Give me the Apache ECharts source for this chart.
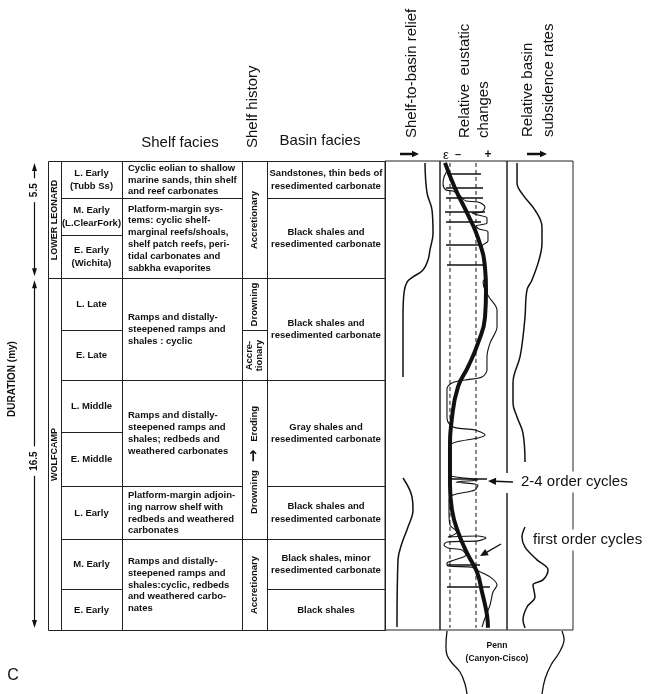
<!DOCTYPE html>
<html><head><meta charset="utf-8">
<script src="https://cdn.jsdelivr.net/npm/echarts@6/dist/echarts.min.js"></script>
<style>html,body{margin:0;padding:0;background:#fff}#c{width:650px;height:694px}</style>
</head><body><div id="c"></div><script>
// ---------------- DATA ----------------
const durationLabels = ['5.5', '16.5'];
const durationBounds = [0, 5.5, 22];

const epochNames = ['LOWER LEONARD', 'WOLFCAMP'];
const epochBounds = [0, 5.5, 22];

const stageNames = ['L. Early\n(Tubb Ss)', 'M. Early\n(L.ClearFork)', 'E. Early\n(Wichita)', 'L. Late', 'E. Late',
  'L. Middle', 'E. Middle', 'L. Early', 'M. Early', 'E. Early'];
const stageBounds = [0, 1.74, 3.47, 5.5, 7.93, 10.27, 12.71, 15.24, 17.73, 20.08, 22];

const shelfFacies = [
  'Cyclic eolian to shallow\nmarine sands, thin shelf\nand reef carbonates',
  'Platform-margin sys-\ntems: cyclic shelf-\nmarginal reefs/shoals,\nshelf patch reefs, peri-\ntidal carbonates and\nsabkha evaporites',
  'Ramps and distally-\nsteepened ramps and\nshales : cyclic',
  'Ramps and distally-\nsteepened ramps and\nshales; redbeds and\nweathered carbonates',
  'Platform-margin adjoin-\ning narrow shelf with\nredbeds and weathered\ncarbonates',
  'Ramps and distally-\nsteepened ramps and\nshales:cyclic, redbeds\nand weathered carbo-\nnates'
];
const shelfFaciesBounds = [0, 1.74, 5.5, 10.27, 15.24, 17.73, 22];

const shelfHistory = ['Accretionary', 'Drowning', 'Accre-\ntionary', 'Drowning   \u2192   Eroding', 'Accretionary'];
const shelfHistoryBounds = [0, 5.5, 7.93, 10.27, 17.73, 22];

const basinFacies = [
  'Sandstones, thin beds of\nresedimented carbonate',
  'Black shales and\nresedimented carbonate',
  'Black shales and\nresedimented carbonate',
  'Gray shales and\nresedimented carbonate',
  'Black shales and\nresedimented carbonate',
  'Black shales, minor\nresedimented carbonate',
  'Black shales'
];
const basinFaciesBounds = [0, 1.74, 5.5, 10.27, 15.24, 17.73, 20.08, 22];

// curves: [relative value, time (my from top)]
const reliefUpper = [[7.27,0.09],[7.64,1.50],[8.55,2.30],[8.73,3.38],[8.18,4.17],[7.82,4.64],[6.91,5.11],[5.09,5.44],[4.0,5.68],[3.45,6.19],[3.27,7.32],[3.27,10.13]];
const reliefLower = [[3.27,14.87],[4.91,15.76],[5.09,16.37],[4.18,17.17],[3.09,17.92],[2.36,18.71],[2.18,21.86]];

const eustaticFirstOrder = [[0.75,0.09],[2.24,1.27],[4.18,2.53],[5.67,3.61],[6.72,5.02],[6.87,6.05],[6.72,7.32],[5.67,8.54],[4.18,9.66],[2.69,10.60],[1.79,12.05],[1.49,13.65],[1.49,15.20],[1.79,16.37],[2.69,17.40],[4.18,18.48],[5.52,19.28],[6.27,20.22],[7.01,21.29],[7.16,21.90]];
const eustaticCycles = [[0.75,0.09],[1.04,0.42],[0.60,0.75],[0.45,1.08],[0.90,1.36],[1.94,1.41],[2.99,1.64],[3.88,1.88],[5.67,1.92],[6.72,2.16],[6.27,2.39],[4.78,2.44],[5.67,2.53],[7.01,2.67],[7.01,2.91],[5.37,3.05],[5.82,3.19],[7.16,3.33],[7.16,3.75],[6.27,3.99],[6.57,4.46],[6.72,5.02],[6.87,5.39],[6.42,5.68],[6.72,6.05],[7.31,6.38],[8.51,6.99],[8.51,7.79],[7.46,8.54],[7.01,9.19],[7.01,9.80],[6.27,10.13],[3.73,10.27],[1.79,10.41],[1.04,10.69],[1.04,12.05],[1.49,12.38],[2.39,12.52],[5.22,12.62],[6.72,12.85],[5.67,12.99],[2.39,13.18],[1.49,13.37],[1.49,14.73],[2.39,14.82],[5.67,14.96],[2.39,15.06],[5.67,15.20],[5.22,15.43],[1.94,15.67],[1.34,15.90],[1.34,16.46],[1.49,17.07],[2.54,17.40],[1.19,17.64],[5.67,17.59],[6.87,17.68],[5.67,17.82],[1.04,17.87],[0.60,18.01],[1.19,18.15],[3.28,18.25],[3.88,18.48],[2.24,18.71],[1.04,18.86],[1.19,19.00],[4.78,19.05],[5.37,19.18],[7.46,19.51],[8.51,19.89],[7.91,20.22],[7.46,20.83],[6.72,21.44],[6.27,21.86]];
// [time, from value, to value]
const eustaticBars = [[0.61,1.04,6.12],[1.27,0.9,6.42],[1.74,0.9,6.42],[2.39,0.75,6.72],[2.86,0.9,6.12],[3.94,0.9,6.27],[4.88,1.04,6.72],[14.92,1.19,7.01],[18.95,1.04,5.97],[19.98,1.04,7.46]];
const eustaticDashedLevels = [1.49, 5.37];
const eustaticSpan = [0.09, 21.9];

const subsidenceUpper = [[1.52,0.09],[1.52,1.03],[2.42,1.59],[4.24,2.30],[5.30,3.10],[5.30,3.85],[4.85,4.64],[3.79,5.58],[3.03,6.05],[2.73,7.32],[2.42,8.26],[1.97,9.19],[0.91,10.41],[0.91,11.35],[1.52,12.01],[2.42,12.76],[2.73,14.12]];
const subsidenceLower = [[2.73,17.17],[2.27,17.64],[2.73,18.11],[4.55,18.71],[6.21,19.18],[5.45,19.65],[3.94,19.89],[4.24,20.45],[3.03,20.92],[2.42,21.53],[2.73,21.90]];

// ---------------- LAYOUT ----------------
const FONT = '"Liberation Sans", Arial, Helvetica, sans-serif';
const INK = '#111';
const LINE = '#222';
const GT = 161, GH = 469;
const COLS = [
  {x0:48, x1:61, rotate:true, font:'bold 9px '+FONT, lh:11, align:'center'},
  {x0:61, x1:122, rotate:false, font:'bold 9.5px '+FONT, lh:13, align:'center'},
  {x0:122, x1:242, rotate:false, font:'bold 9.5px '+FONT, lh:11.8, align:'left', pad:6},
  {x0:242, x1:267, rotate:true, font:'bold 9.5px '+FONT, lh:10, align:'center'},
  {x0:267, x1:385, rotate:false, font:'bold 9.5px '+FONT, lh:12.5, align:'center'}
];
const DUR_X = 34;
const DUR_LABEL_FRAC = [0.24, 0.52];

const tables = [[epochNames, epochBounds], [stageNames, stageBounds], [shelfFacies, shelfFaciesBounds],
  [shelfHistory, shelfHistoryBounds], [basinFacies, basinFaciesBounds]];
const cellData = [], cellTexts = [];
tables.forEach(([names, bounds], c) => {
  names.forEach((n, i) => { cellData.push([c, bounds[i], bounds[i+1]]); cellTexts.push(n); });
});
const durData = durationLabels.map((l, i) => [durationBounds[i], durationBounds[i+1]]);

function renderCell(params, api) {
  const c = COLS[api.value(0)];
  const yTop = Math.round(api.coord([0, api.value(1)])[1]) + 0.5;
  const yBot = Math.round(api.coord([0, api.value(2)])[1]) + 0.5;
  const cx = c.align === 'left' ? c.x0 + c.pad : (c.x0 + c.x1) / 2;
  const cy = (yTop + yBot) / 2;
  const txt = cellTexts[params.dataIndex].replace('\u2192', '{a|\u2192}');
  return {type:'group', children:[
    {type:'rect', shape:{x:c.x0+0.5, y:yTop, width:c.x1-c.x0, height:yBot-yTop}, style:{fill:'none', stroke:LINE, lineWidth:1}},
    {type:'text', x:cx, y:cy, rotation:c.rotate?Math.PI/2:0,
      style:{text:txt, font:c.font, fill:INK, align:c.align, verticalAlign:'middle', lineHeight:c.lh,
        rich:{a:{font:'bold 15px "DejaVu Sans", sans-serif', fill:INK}}}}
  ]};
}
function renderDuration(params, api) {
  const x = DUR_X + 0.5;
  const y1 = api.coord([0, api.value(0)])[1] + 2;
  const y2 = api.coord([0, api.value(1)])[1] - 2;
  const yl = y1 + (y2 - y1) * DUR_LABEL_FRAC[params.dataIndex];
  return {type:'group', children:[
    {type:'line', shape:{x1:x, y1:y1+5, x2:x, y2:y2-5}, style:{stroke:INK, lineWidth:1.2}},
    {type:'polygon', shape:{points:[[x,y1],[x-2.5,y1+8],[x+2.5,y1+8]]}, style:{fill:INK}},
    {type:'polygon', shape:{points:[[x,y2],[x-2.5,y2-8],[x+2.5,y2-8]]}, style:{fill:INK}},
    {type:'text', x:x, y:yl, rotation:Math.PI/2,
      style:{text:durationLabels[params.dataIndex], font:'bold 10px '+FONT, fill:INK, align:'center', verticalAlign:'middle', backgroundColor:'#fff', padding:[0,5]}}
  ]};
}

const grids = [
  {left:48, top:GT, width:337, height:GH},
  {left:385, top:GT, width:55, height:GH, show:true, borderColor:LINE, borderWidth:1},
  {left:440, top:GT, width:67, height:GH, show:true, borderColor:LINE, borderWidth:1},
  {left:507, top:GT, width:66, height:GH, show:true, borderColor:LINE, borderWidth:1},
  {left:0, top:GT, width:48, height:GH}
];
const xAxis = grids.map((g, i) => ({gridIndex:i, type:'value', min:0, max:(i===0||i===4)?1:10, show:false}));
const yAxis = grids.map((g, i) => ({gridIndex:i, type:'value', min:0, max:22, inverse:true, show:false}));

function curve(data, gi, width, smooth, extra) {
  return Object.assign({type:'line', xAxisIndex:gi, yAxisIndex:gi, data:data, symbol:'none', smooth:smooth,
    silent:true, clip:false, lineStyle:{color:INK, width:width}, z:5}, extra || {});
}

const series = [
  {type:'custom', xAxisIndex:0, yAxisIndex:0, data:cellData, renderItem:renderCell, silent:true, z:3},
  {type:'custom', xAxisIndex:4, yAxisIndex:4, data:durData, renderItem:renderDuration, silent:true, z:3},
  curve(reliefUpper, 1, 1.5, 0.4),
  curve(reliefLower, 1, 1.5, 0.4),
  curve(subsidenceUpper, 3, 1.5, 0.4),
  curve(subsidenceLower, 3, 1.5, 0.35),
  ...eustaticDashedLevels.map(v => curve([[v, eustaticSpan[0]], [v, eustaticSpan[1]]], 2, 1, false,
    {lineStyle:{color:INK, width:1, type:[4,3]}})),
  curve(eustaticCycles, 2, 1.1, 0.3),
  {type:'lines', coordinateSystem:'cartesian2d', xAxisIndex:2, yAxisIndex:2, silent:true, z:5,
    data:eustaticBars.map(b => ({coords:[[b[1], b[0]], [b[2], b[0]]]})),
    lineStyle:{color:INK, width:1.6, opacity:1}},
  curve(eustaticFirstOrder, 2, 4, 0.5, {z:6})
];

function rtext(text, x, y, font, extra) {
  return Object.assign({type:'text', x:x, y:y, rotation:Math.PI/2, z:100,
    style:{text:text, font:font, fill:INK, align:'left', verticalAlign:'middle'}}, extra || {});
}
function htext(text, x, y, font, align, style) {
  return {type:'text', x:x, y:y, z:100,
    style:Object.assign({text:text, font:font, fill:INK, align:align||'center', verticalAlign:'middle'}, style||{})};
}
function arrow(x1, y1, x2, y2, w, head) {
  const dx = x2 - x1, dy = y2 - y1, L = Math.hypot(dx, dy), ux = dx/L, uy = dy/L;
  const bx = x2 - ux*head, by = y2 - uy*head, px = -uy*head*0.45, py = ux*head*0.45;
  return [
    {type:'line', z:101, shape:{x1:x1, y1:y1, x2:bx+ux, y2:by+uy}, style:{stroke:INK, lineWidth:w}},
    {type:'polygon', z:101, shape:{points:[[x2,y2],[bx+px,by+py],[bx-px,by-py]]}, style:{fill:INK}}
  ];
}
const HF = '15px ' + FONT;
const graphic = [
  htext('Shelf facies', 180, 143, HF),
  htext('Basin facies', 320, 141, HF),
  rtext('Shelf history', 253, 148, HF),
  rtext('Shelf-to-basin relief', 412, 138, HF),
  rtext('Relative  eustatic', 465, 138, HF),
  rtext('changes', 484, 138, HF),
  rtext('Relative basin', 528, 137, HF),
  rtext('subsidence rates', 549, 137, HF),
  rtext('DURATION (my)', 12, 417, 'bold 10px ' + FONT),
  htext('\u03b5', 446, 155, '13px ' + FONT),
  htext('\u2013', 458, 155, 'bold 11px ' + FONT),
  htext('+', 488, 155, 'bold 12px ' + FONT),
  ...arrow(400, 154, 419, 154, 2.5, 7),
  ...arrow(527, 154, 547, 154, 2.5, 7),
  {type:'rect', z:99, shape:{x:503, y:473, width:8, height:20}, style:{fill:'#fff'}},
  ...arrow(513, 482, 488, 481, 1.4, 8),
  ...arrow(501, 544, 480, 556, 1.4, 8),
  htext('2-4 order cycles', 519, 482, '15px ' + FONT, 'left', {backgroundColor:'#fff', padding:[3,2]}),
  htext('first order cycles', 531, 540, '15px ' + FONT, 'left', {backgroundColor:'#fff', padding:[3,2]}),
  {type:'polyline', z:100, shape:{points:[[447,631],[446,645],[447,655],[452,663],[460,672],[465,684],[467,694]], smooth:0.4}, style:{stroke:INK, lineWidth:1.3, fill:null}},
  {type:'polyline', z:100, shape:{points:[[562,631],[564,641],[559,653],[551,665],[545,679],[542,694]], smooth:0.4}, style:{stroke:INK, lineWidth:1.3, fill:null}},
  htext('Penn', 497, 646, 'bold 8.5px ' + FONT),
  htext('(Canyon-Cisco)', 497, 659, 'bold 8.5px ' + FONT),
  htext('C', 13, 676, '16px ' + FONT)
];

const chart = echarts.init(document.getElementById('c'), null, {renderer:'canvas'});
chart.setOption({
  animation:false,
  backgroundColor:'#fff',
  grid:grids, xAxis:xAxis, yAxis:yAxis,
  series:series,
  graphic:{elements:graphic}
});
</script></body></html>
